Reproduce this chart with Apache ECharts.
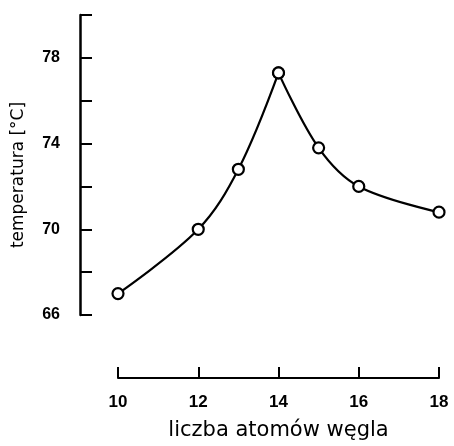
<!DOCTYPE html>
<html>
<head>
<meta charset="utf-8">
<script src="https://cdn.jsdelivr.net/npm/echarts@6/dist/echarts.min.js"></script>
<style>
  html, body { margin: 0; padding: 0; background: #ffffff; }
  #chart { width: 454px; height: 446px; }
</style>
</head>
<body>
<div id="chart"></div>
<script>
// Number of carbon atoms and the measured temperature
const carbonAtoms = [10, 12, 13, 14, 15, 16, 18];
const temperature = [67.0, 70.0, 72.8, 77.3, 73.8, 72.0, 70.8];
const xTicks = [10, 12, 14, 16, 18];
const yTickLabels = [66, 70, 74, 78];

const xName = 'liczba atomów węgla';
const yName = 'temperatura [°C]';

// The curve has a sharp maximum at 14 atoms: draw it as two smooth branches
const peakIndex = temperature.indexOf(Math.max(...temperature));
const pairs = carbonAtoms.map((c, i) => [c, temperature[i]]);
const rising = pairs.slice(0, peakIndex + 1);
const falling = pairs.slice(peakIndex);

const branch = (data) => ({
  type: 'line',
  data: data,
  smooth: 0.35,
  clip: false,
  symbol: 'circle',
  symbolSize: 11,
  lineStyle: { color: '#000', width: 2.2 },
  itemStyle: { color: '#fff', borderColor: '#000', borderWidth: 2.2 },
  z: 3
});

const chart = echarts.init(document.getElementById('chart'), null, { renderer: 'canvas' });
chart.setOption({
  animation: false,
  backgroundColor: '#ffffff',
  grid: { left: 118, right: 15, top: 15, bottom: 131 },
  xAxis: {
    type: 'value',
    min: xTicks[0],
    max: xTicks[xTicks.length - 1],
    interval: 2,
    offset: 63,
    name: xName,
    nameLocation: 'middle',
    nameGap: 42,
    nameTextStyle: { color: '#000', fontFamily: 'DejaVu Sans', fontSize: 21 },
    axisLine: { lineStyle: { color: '#000', width: 2 } },
    axisTick: { inside: true, length: 11, lineStyle: { color: '#000', width: 2 } },
    axisLabel: { margin: 16, color: '#000', fontFamily: 'Liberation Sans', fontWeight: 'bold', fontSize: 17 },
    splitLine: { show: false }
  },
  yAxis: {
    type: 'value',
    min: 66,
    max: 80,
    interval: 2,
    offset: 38,
    name: yName,
    nameLocation: 'middle',
    nameGap: 53,
    nameTextStyle: { color: '#000', fontFamily: 'DejaVu Sans', fontSize: 17, padding: [0, 20, 0, 0] },
    axisLine: { lineStyle: { color: '#000', width: 2.5 } },
    axisTick: { inside: true, length: 12, lineStyle: { color: '#000', width: 2 } },
    axisLabel: {
      margin: 20,
      color: '#000',
      fontFamily: 'Liberation Sans',
      fontWeight: 'bold',
      fontSize: 16,
      formatter: (v) => (yTickLabels.includes(v) ? String(v) : '')
    },
    splitLine: { show: false }
  },
  series: [branch(rising), branch(falling)]
});
</script>
</body>
</html>
